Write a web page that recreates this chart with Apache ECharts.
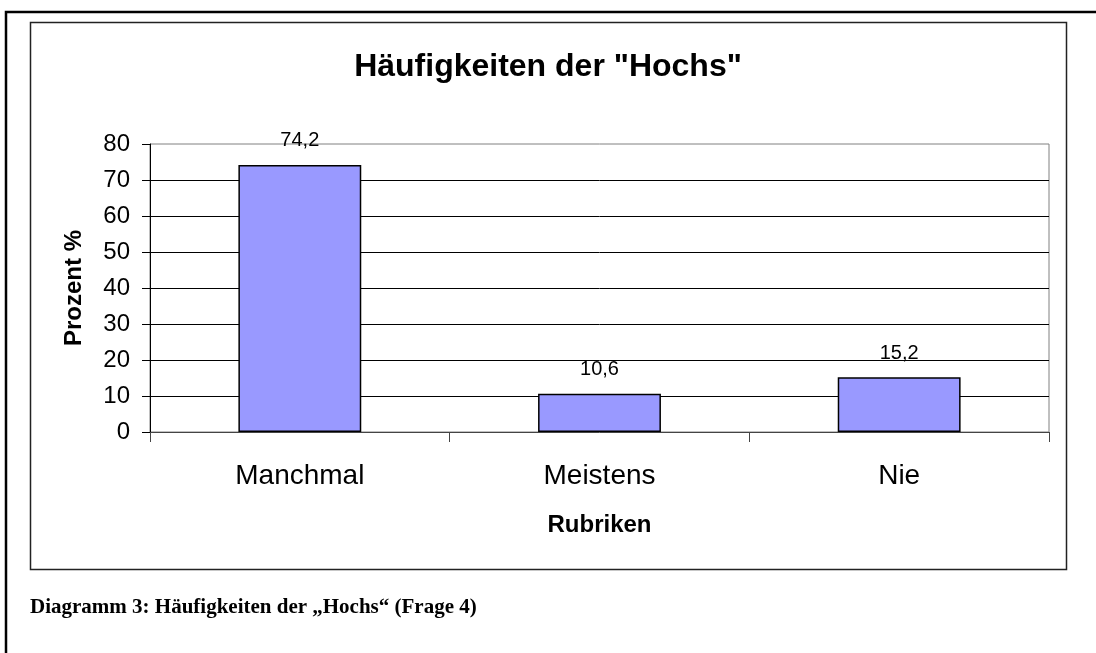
<!DOCTYPE html>
<html>
<head>
<meta charset="utf-8">
<title>Häufigkeiten der "Hochs"</title>
<script src="https://cdn.jsdelivr.net/npm/echarts@6/dist/echarts.min.js"></script>
<style>
  html, body { margin: 0; padding: 0; background: #fff; }
  #chart { width: 1096px; height: 653px; }
</style>
</head>
<body>
<div id="chart"></div>
<script>
// Chart data
const categories = ['Manchmal', 'Meistens', 'Nie'];
const percentValues = [74.2, 10.6, 15.2];
const yTicks = [0, 10, 20, 30, 40, 50, 60, 70, 80];

const chartTitle = 'Häufigkeiten der "Hochs"';
const xAxisName = 'Rubriken';
const yAxisName = 'Prozent %';
const captionText = 'Diagramm 3: Häufigkeiten der \u201EHochs\u201C (Frage 4)';

const sansFont = '"Liberation Sans", Arial, sans-serif';
const serifFont = '"Liberation Serif", "Times New Roman", serif';

const chartDom = document.getElementById('chart');
const myChart = echarts.init(chartDom, null, { renderer: 'canvas' });

const option = {
    animation: false,
    backgroundColor: '#ffffff',
    title: {
        text: chartTitle,
        left: 'center',
        top: 51,
        padding: 0,
        textStyle: {
            fontFamily: sansFont,
            fontSize: 32,
            fontWeight: 'bold',
            color: '#000'
        }
    },
    grid: {
        left: 150,
        right: 47,
        top: 144,
        bottom: 221,
        show: true,
        borderColor: '#808080',
        borderWidth: 1,
        backgroundColor: 'transparent'
    },
    xAxis: {
        type: 'category',
        data: categories,
        boundaryGap: true,
        name: xAxisName,
        nameLocation: 'middle',
        nameGap: 81,
        nameTextStyle: {
            fontFamily: sansFont,
            fontSize: 24,
            fontWeight: 'bold',
            color: '#000'
        },
        axisLine: { lineStyle: { color: '#444', width: 1 } },
        axisTick: { show: true, length: 10, alignWithLabel: false, lineStyle: { color: '#444' } },
        axisLabel: {
            margin: 30,
            fontFamily: sansFont,
            fontSize: 28,
            color: '#000'
        },
        splitLine: { show: false }
    },
    yAxis: {
        type: 'value',
        min: yTicks[0],
        max: yTicks[yTicks.length - 1],
        interval: yTicks[1] - yTicks[0],
        name: yAxisName,
        nameLocation: 'middle',
        nameGap: 64,
        nameRotate: 90,
        nameTextStyle: {
            fontFamily: sansFont,
            fontSize: 24,
            fontWeight: 'bold',
            color: '#000'
        },
        axisLine: { show: true, lineStyle: { color: '#000', width: 1 } },
        axisTick: { show: true, inside: false, length: 8, lineStyle: { color: '#000' } },
        axisLabel: {
            margin: 20,
            fontFamily: sansFont,
            fontSize: 24,
            color: '#000'
        },
        splitLine: {
            show: true,
            showMinLine: false,
            showMaxLine: false,
            lineStyle: { color: '#000', width: 1 }
        }
    },
    series: [
        {
            name: yAxisName,
            type: 'bar',
            data: percentValues,
            barWidth: '41%',
            itemStyle: {
                color: '#9999ff',
                borderColor: '#000',
                borderWidth: 1.5
            },
            label: {
                show: true,
                position: 'top',
                distance: 14,
                fontFamily: sansFont,
                fontSize: 20,
                color: '#000',
                formatter: function (params) {
                    return String(params.value).replace('.', ',');
                }
            }
        }
    ],
    graphic: [
        // page frame (only left and top edges are inside the picture)
        {
            type: 'polyline',
            shape: { points: [[6, 700], [6, 12], [1100, 12]] },
            style: { stroke: '#000', lineWidth: 2.5, fill: null },
            silent: true
        },
        // chart area frame
        {
            type: 'rect',
            shape: { x: 30.5, y: 22.5, width: 1036, height: 547 },
            style: { stroke: '#222', lineWidth: 1.5, fill: null },
            silent: true
        },
        // caption below the chart
        {
            type: 'text',
            left: 30,
            top: 597,
            style: {
                text: captionText,
                font: 'bold 21px ' + serifFont,
                fill: '#000'
            },
            silent: true
        }
    ]
};

myChart.setOption(option);

window.addEventListener('resize', () => {
    myChart.resize();
});
</script>
</body>
</html>
